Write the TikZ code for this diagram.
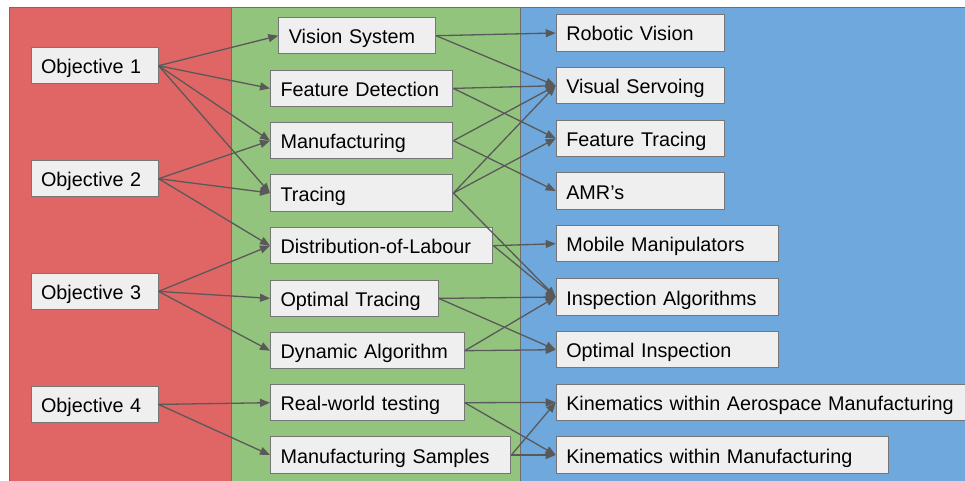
\documentclass[tikz,border=0pt]{standalone}
\usepackage{fontspec}
\setmainfont{Liberation Sans}
\usetikzlibrary{arrows.meta}

\definecolor{panelred}{HTML}{E06666}
\definecolor{panelgreen}{HTML}{93C47D}
\definecolor{panelblue}{HTML}{6FA8DC}
\definecolor{boxfill}{HTML}{EFEFEF}
\definecolor{boxline}{HTML}{767676}
\definecolor{arrowgray}{HTML}{595959}
\definecolor{panelline}{HTML}{6E6E6E}

\tikzset{
  panel/.style={draw=panelline, line width=1pt},
  item/.style={draw=boxline, fill=boxfill, line width=1.1pt, rectangle,
    anchor=north west, inner xsep=10pt, inner ysep=0pt,
    minimum height=36.3pt, align=left,
    text height=16pt, text depth=0pt,
    font=\fontsize{19.8}{24}\selectfont},
  link/.style={draw=arrowgray, line width=1.3pt,
    -{Triangle[length=10pt,width=8pt]}},
}
% w = full box width; the text width leaves 10pt padding each side
\newcommand{\itembox}[5]{%
  \node[item, text width={#4-20pt}] (#1) at (#2,#3) {#5};}

\begin{document}
\begin{tikzpicture}[x=1pt,y=-1pt]
\useasboundingbox (0,0) rectangle (965,481);

% three coloured columns
\fill[white] (0,0) rectangle (965,481);
\filldraw[panel, fill=panelred]   (9,7.5)   rectangle (231,490);
\filldraw[panel, fill=panelgreen] (231,7.5) rectangle (520,490);
\filldraw[panel, fill=panelblue]  (520,7.5) rectangle (980,490);

% objectives
\itembox{o1}{30.5}{47}{127pt}{Objective 1}
\itembox{o2}{30.5}{160}{127pt}{Objective 2}
\itembox{o3}{30.5}{272.7}{127pt}{Objective 3}
\itembox{o4}{30.5}{385.7}{127pt}{Objective 4}

% work packages
\itembox{vis}{278.3}{17}{156.7pt}{Vision System}
\itembox{feat}{270}{69.7}{182.3pt}{Feature Detection}
\itembox{manu}{270}{122}{182.3pt}{Manufacturing}
\itembox{trac}{270}{174.3}{182.3pt}{Tracing}
\itembox{dist}{270}{227}{222.3pt}{Distribution-of-Labour}
\itembox{optt}{270}{279.7}{167.7pt}{Optimal Tracing}
\itembox{dyn}{270}{332}{193.7pt}{Dynamic Algorithm}
\itembox{real}{270}{384}{193.7pt}{Real-world testing}
\itembox{msam}{270}{436.3}{240.3pt}{Manufacturing Samples}

% research topics
\itembox{robv}{555.7}{14.3}{168.3pt}{Robotic Vision}
\itembox{vser}{555.7}{67}{168.3pt}{Visual Servoing}
\itembox{ftr}{555.7}{119.7}{168.3pt}{Feature Tracing}
\itembox{amr}{555.7}{172.3}{168.3pt}{AMR’s}
\itembox{mob}{555.7}{225}{222.6pt}{Mobile Manipulators}
\itembox{insp}{555.7}{278.3}{222.6pt}{Inspection Algorithms}
\itembox{opti}{555.7}{331}{222.6pt}{Optimal Inspection}
\itembox{kaero}{555.7}{383.7}{415pt}{Kinematics within Aerospace Manufacturing}
\itembox{kman}{555.7}{436.3}{332.6pt}{Kinematics within Manufacturing}

% objectives -> work packages
\foreach \t in {vis,feat,manu,trac} \draw[link] (o1.east) -- (\t.west);
\foreach \t in {manu,trac,dist} \draw[link] (o2.east) -- (\t.west);
\foreach \t in {dist,optt,dyn} \draw[link] (o3.east) -- (\t.west);
\foreach \t in {real,msam} \draw[link] (o4.east) -- (\t.west);

% work packages -> research topics
\foreach \t in {robv,vser} \draw[link] (vis.east) -- (\t.west);
\foreach \t in {vser,ftr} \draw[link] (feat.east) -- (\t.west);
\foreach \t in {vser,amr} \draw[link] (manu.east) -- (\t.west);
\foreach \t in {vser,ftr,insp} \draw[link] (trac.east) -- (\t.west);
\foreach \t in {mob,insp} \draw[link] (dist.east) -- (\t.west);
\foreach \t in {insp,opti} \draw[link] (optt.east) -- (\t.west);
\foreach \t in {insp,opti} \draw[link] (dyn.east) -- (\t.west);
\foreach \t in {kaero,kman} \draw[link] (real.east) -- (\t.west);
\foreach \t in {kaero,kman} \draw[link] (msam.east) -- (\t.west);
\end{tikzpicture}
\end{document}
